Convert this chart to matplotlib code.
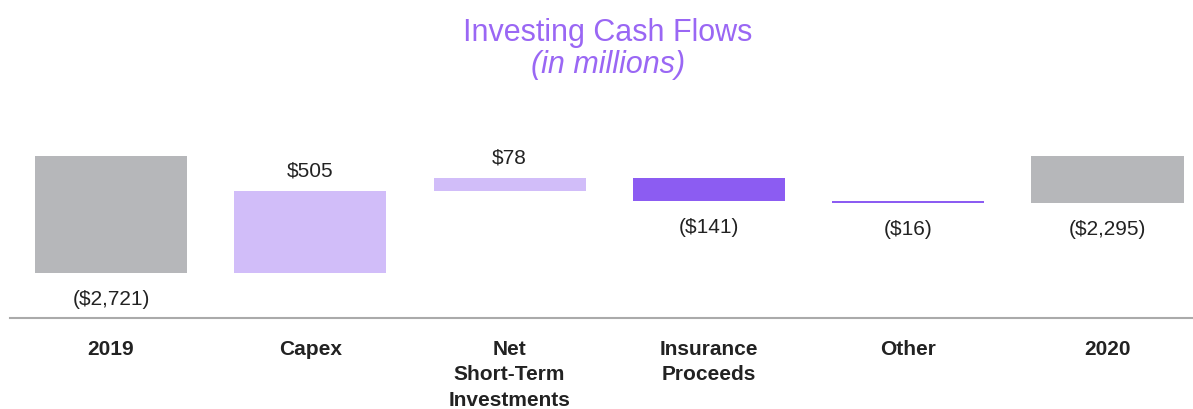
import numpy as np
import matplotlib.pyplot as plt

plt.rcParams['font.family'] = ['Liberation Sans', 'DejaVu Sans']

# waterfall data ($ millions)
categories = ['2019', 'Capex', 'Net\nShort-Term\nInvestments', 'Insurance\nProceeds', 'Other', '2020']
start_balance = -2721
changes = [505, 78, -141, -16]
end_balance = -2295

# running levels of the waterfall
levels = np.concatenate([[start_balance], start_balance + np.cumsum(changes)])
bottoms = [0] + list(levels[:-1]) + [0]
heights = [start_balance] + changes + [end_balance]
values = heights

GRAY = '#b6b7ba'
LIGHT = '#d1bdf9'
DARK = '#8c5cf2'
TITLE = '#9a67f4'
colors = [GRAY] + [LIGHT if c > 0 else DARK for c in changes] + [GRAY]

# the chart is not to linear scale: each level sits on its own spot (px from top)
knot_vals = np.array(sorted(set([0.0] + [float(v) for v in levels])))
knot_px = np.array([273.7, 203.5, 202.0, 191.5, 178.5, 157.0])  # for sorted knot_vals


def _interp_ext(x, xp, fp):
    x = np.asarray(x, dtype=float)
    y = np.interp(x, xp, fp)
    lo = x < xp[0]
    hi = x > xp[-1]
    s0 = (fp[1] - fp[0]) / (xp[1] - xp[0])
    s1 = (fp[-1] - fp[-2]) / (xp[-1] - xp[-2])
    y = np.where(lo, fp[0] + (x - xp[0]) * s0, y)
    y = np.where(hi, fp[-1] + (x - xp[-1]) * s1, y)
    return y


def forward(v):
    return -_interp_ext(v, knot_vals, knot_px)


def inverse(t):
    return _interp_ext(-np.asarray(t, dtype=float), knot_px[::-1], knot_vals[::-1])


def money(v):
    s = '${:,.0f}'.format(abs(v))
    return '(' + s + ')' if v < 0 else s


W, H = 1193, 410
fig = plt.figure(figsize=(W / 100, H / 100), dpi=100)
ax = fig.add_axes([10 / W, (H - 319) / H, (W - 10) / W, (319 - 140) / H])
ax.set_yscale('function', functions=(forward, inverse))

x = np.arange(len(categories))
ax.bar(x, heights, bottom=bottoms, width=0.763, color=colors, linewidth=0)

for i, (b, h, v) in enumerate(zip(bottoms, heights, values)):
    top = max(b, b + h)
    low = min(b, b + h)
    if v > 0:
        ax.annotate(money(v), (i, top), xytext=(0, 15), textcoords='offset points',
                    ha='center', va='center', fontsize=15, color='#222222')
    else:
        ax.annotate(money(v), (i, low), xytext=(0, -18.5), textcoords='offset points',
                    ha='center', va='center', fontsize=15, color='#222222')

ax.set_xlim((10 - 111) / 199.3, (W - 111) / 199.3)
ax.set_ylim(inverse(-319), inverse(-140))

ax.set_xticks(x)
ax.set_xticklabels(categories, fontsize=15, fontweight='bold', color='#222222', linespacing=1.44)
ax.tick_params(axis='x', length=0, pad=15)
ax.set_yticks([])
ax.yaxis.set_minor_locator(plt.NullLocator())
for side in ['top', 'left', 'right']:
    ax.spines[side].set_visible(False)
ax.spines['bottom'].set_color('#aaaaaa')
ax.spines['bottom'].set_linewidth(1.5)

fig.text(608 / W, (H - 40.7) / H, 'Investing Cash Flows', ha='center', va='baseline',
         fontsize=22, color=TITLE)
fig.text(608 / W, (H - 72.5) / H, '(in millions)', ha='center', va='baseline',
         fontsize=22, style='italic', color=TITLE)

fig.savefig('out.png', dpi=100)
